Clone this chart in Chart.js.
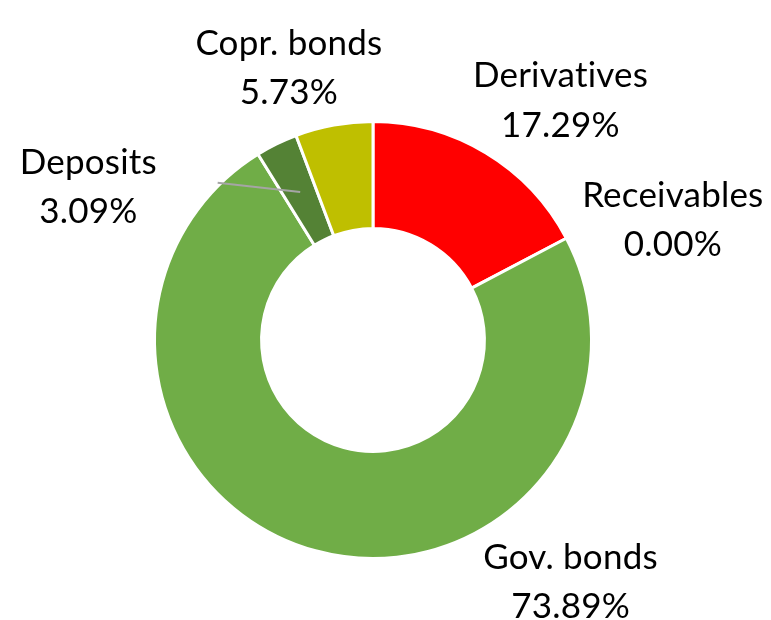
<!DOCTYPE html>
<html>
<head>
<meta charset="utf-8">
<script src="https://cdn.jsdelivr.net/npm/chart.js@4/dist/chart.umd.min.js"></script>
<style>
html,body{margin:0;padding:0;background:#fff;}
#c{display:block;}
</style>
</head>
<body>
<canvas id="c" width="771" height="620"></canvas>
<script>
const categories = ["Derivatives", "Receivables", "Gov. bonds", "Deposits", "Copr. bonds"];
const shares = [17.29, 0.00, 73.89, 3.09, 5.73];
const pctLabels = ["17.29%", "0.00%", "73.89%", "3.09%", "5.73%"];
const sliceColors = ["#FF0000", "#4472C4", "#70AD47", "#548235", "#BFBF00"];

// label anchors (first-line baseline, centered), relative to centre in units of outer radius
const labelAnchors = [[0.858,-1.156],[1.372,-0.610],[0.904,1.046],[-1.303,-0.761],[-0.385,-1.303]];
const leaderFrom = {3: [-0.711,-0.720]};

const labelPlugin = {
  id: 'outsideLabels',
  afterDatasetsDraw(chart) {
    const ctx = chart.ctx;
    const meta = chart.getDatasetMeta(0);
    const arc0 = meta.data[0];
    const cx = arc0.x, cy = arc0.y, R = arc0.outerRadius;
    ctx.save();
    Object.keys(leaderFrom).forEach(k => {
      const i = +k;
      const a = meta.data[i];
      const mid = (a.startAngle + a.endAngle) / 2;
      const rr = (a.innerRadius + a.outerRadius) / 2;
      const ex = cx + Math.cos(mid) * rr, ey = cy + Math.sin(mid) * rr;
      ctx.strokeStyle = '#A5A5A5';
      ctx.lineWidth = 2;
      ctx.beginPath();
      ctx.moveTo(cx + leaderFrom[k][0] * R, cy + leaderFrom[k][1] * R);
      ctx.lineTo(ex, ey);
      ctx.stroke();
    });
    ctx.fillStyle = '#000';
    ctx.font = '35px Lato, "Open Sans", sans-serif';
    try { ctx.letterSpacing = '0.2px'; } catch (e) {}
    ctx.textAlign = 'center';
    ctx.textBaseline = 'alphabetic';
    const lh = 0.225 * R;
    categories.forEach((name, i) => {
      const x = cx + labelAnchors[i][0] * R;
      const y = cy + labelAnchors[i][1] * R;
      ctx.fillText(name, x, y);
      ctx.fillText(pctLabels[i], x, y + lh);
    });
    ctx.restore();
  }
};

new Chart(document.getElementById('c'), {
  type: 'doughnut',
  data: {
    labels: categories,
    datasets: [{
      data: shares,
      backgroundColor: sliceColors,
      borderColor: '#FFFFFF',
      borderWidth: 3
    }]
  },
  options: {
    responsive: false,
    devicePixelRatio: 1,
    animation: false,
    cutout: '51%',
    layout: { padding: { left: 153, right: 178, top: 120, bottom: 60 } },
    plugins: { legend: { display: false }, tooltip: { enabled: false } }
  },
  plugins: [labelPlugin]
});
</script>
</body>
</html>
